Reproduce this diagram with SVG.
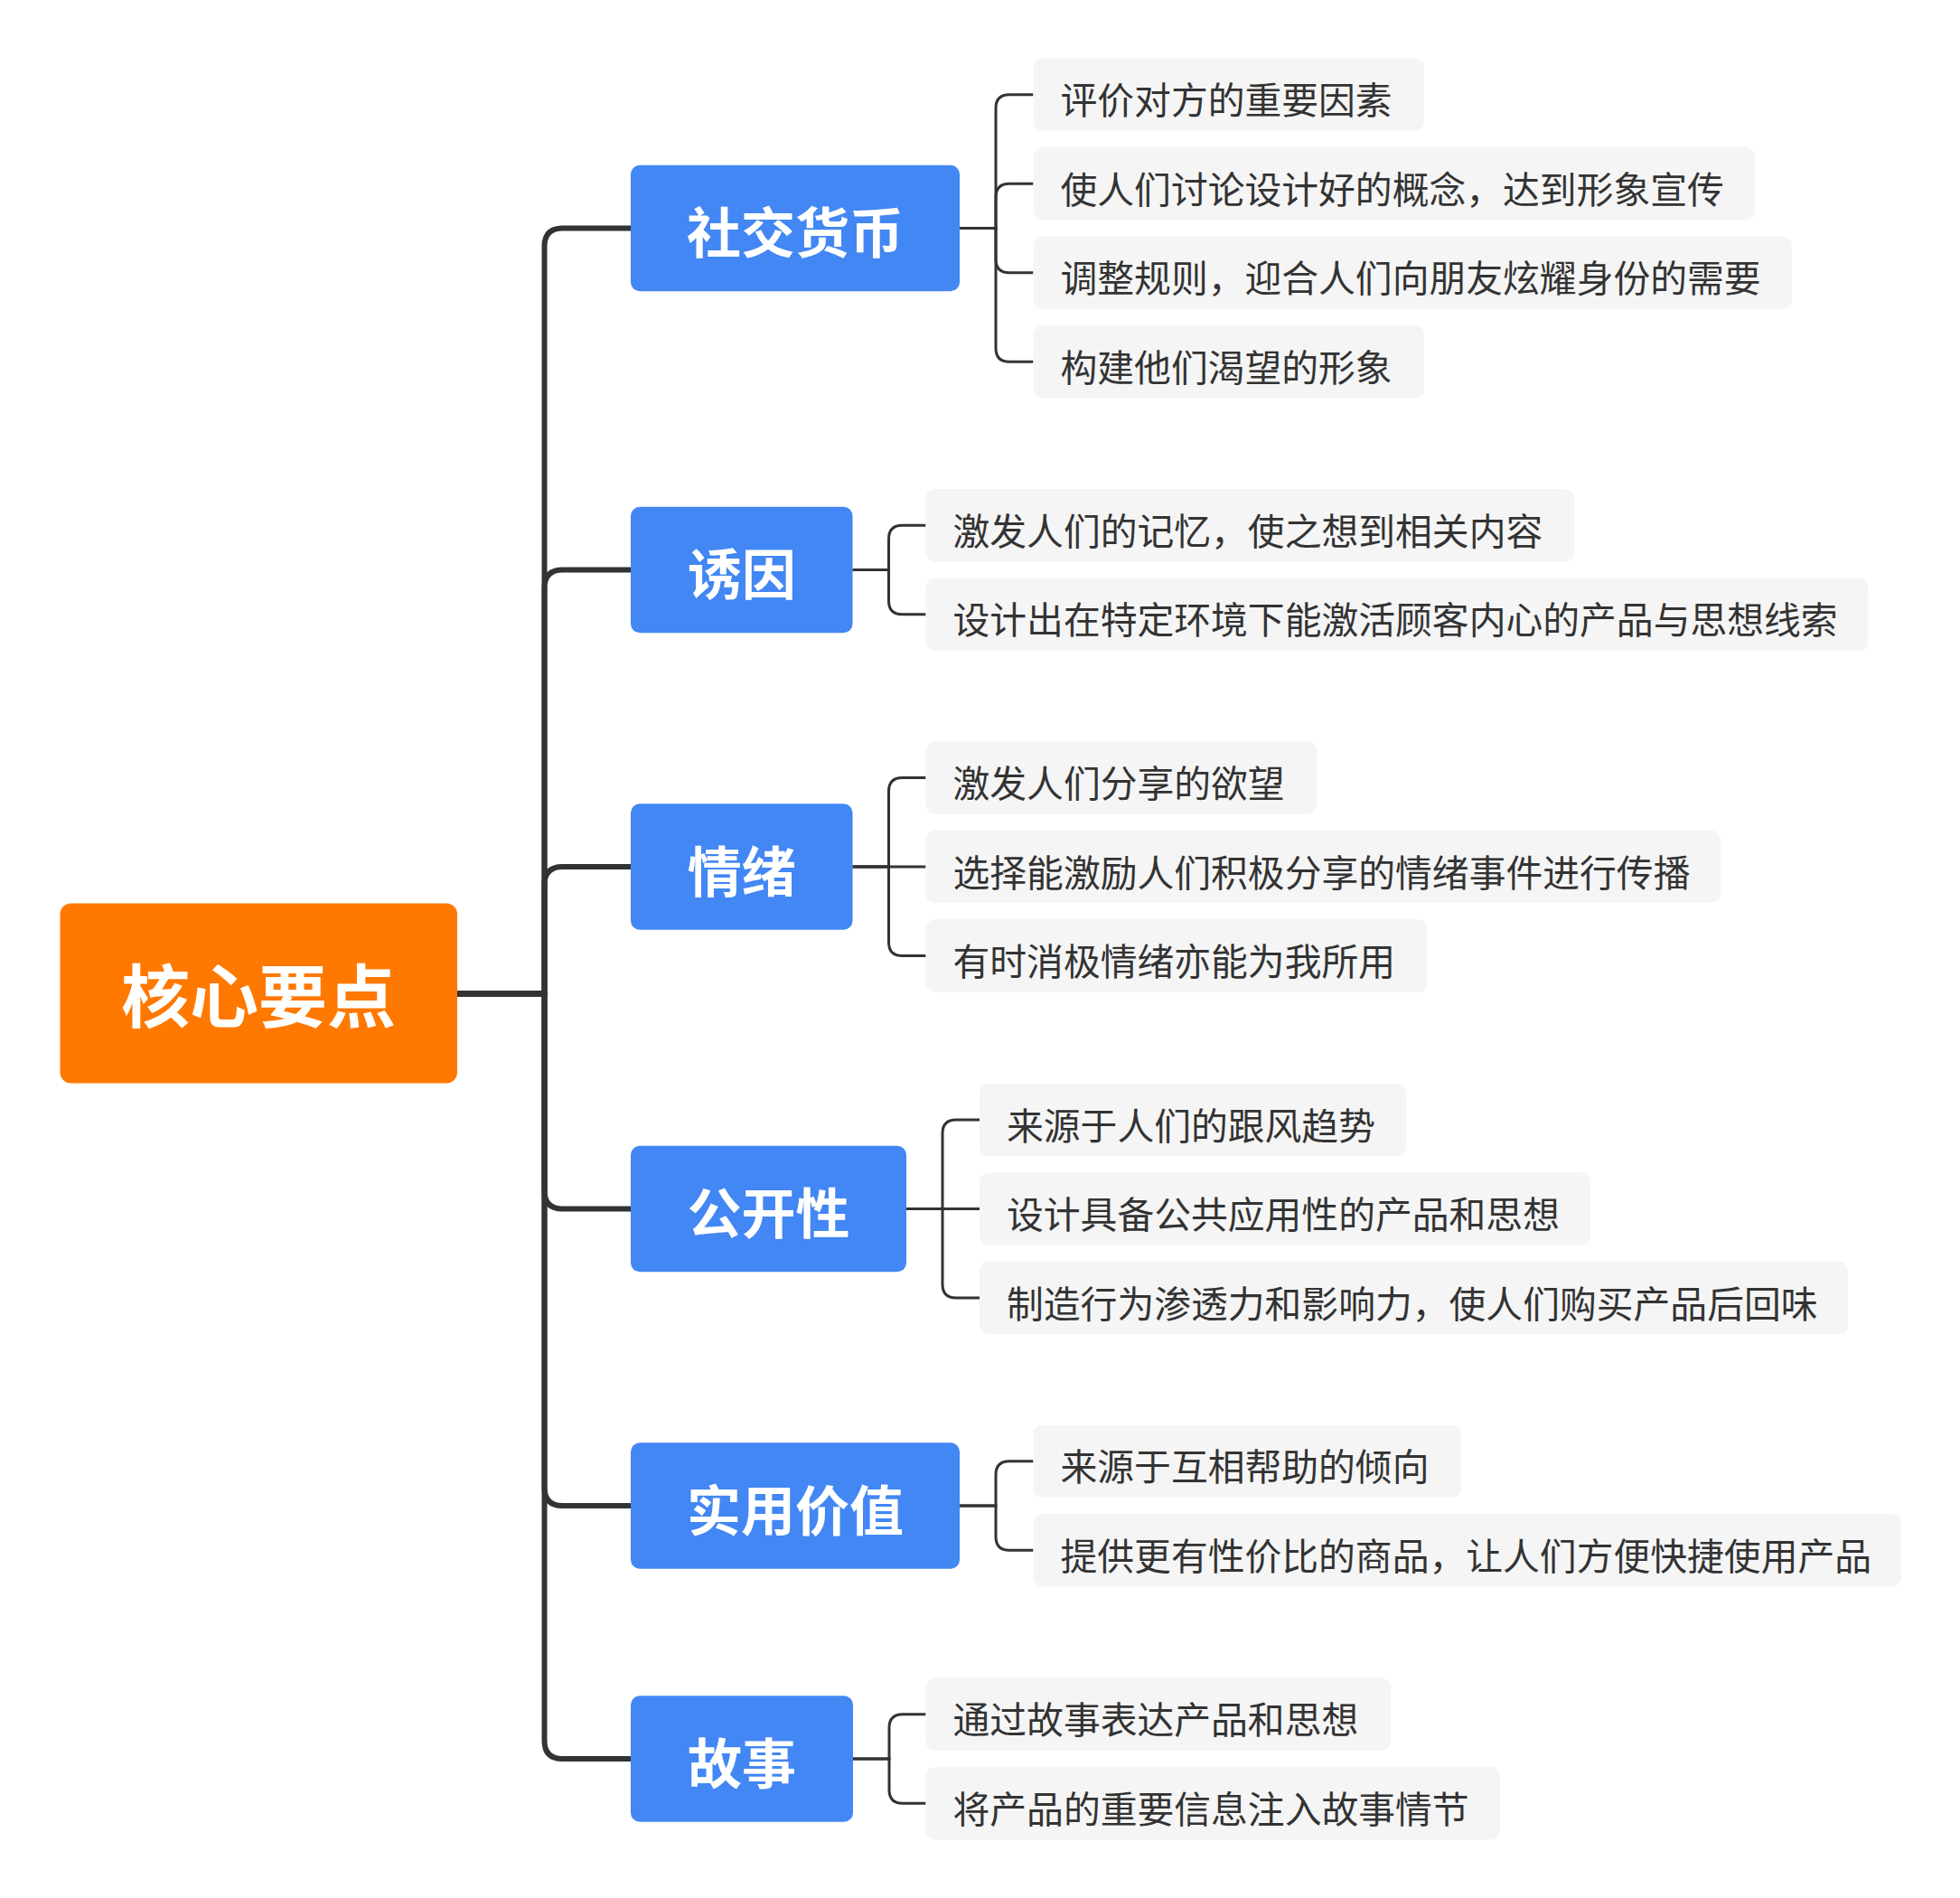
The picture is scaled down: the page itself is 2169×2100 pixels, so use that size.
<svg xmlns="http://www.w3.org/2000/svg" width="2169" height="2100" viewBox="0 0 2169 2100">
<style>
.root{fill:#FF7800}
.cat{fill:#4287F3}
.leaf{fill:#F5F5F5}
.rt{font-family:"Noto Sans CJK SC","Noto Sans",sans-serif;font-weight:700;font-size:76px;fill:#fff;text-anchor:middle}
.ct{font-family:"Noto Sans CJK SC","Noto Sans",sans-serif;font-weight:700;font-size:60px;fill:#fff;text-anchor:middle}
.lt{font-family:"Noto Sans CJK SC","Noto Sans",sans-serif;font-size:40.8px;fill:#333}
.trunk{fill:none;stroke:#333;stroke-width:6}
.br{fill:none;stroke:#333;stroke-width:3}
</style>
<rect width="2169" height="2100" fill="#fff"/>
<g id="connectors">
<path class="trunk" d="M506 1099.5H602.5V272.5Q602.5 252.5 622.5 252.5H698"/>
<path class="trunk" d="M506 1099.5H602.5V650.5Q602.5 630.5 622.5 630.5H698"/>
<path class="trunk" d="M506 1099.5H602.5V979Q602.5 959 622.5 959H698"/>
<path class="trunk" d="M506 1099.5H602.5V1317.5Q602.5 1337.5 622.5 1337.5H698"/>
<path class="trunk" d="M506 1099.5H602.5V1646Q602.5 1666 622.5 1666H698"/>
<path class="trunk" d="M506 1099.5H602.5V1926Q602.5 1946 622.5 1946H698"/>
<path class="br" d="M1062 252.5H1102V119.75Q1102 104.75 1117 104.75H1143.5"/>
<path class="br" d="M1062 252.5H1102V218.25Q1102 203.25 1117 203.25H1143.5"/>
<path class="br" d="M1062 252.5H1102V286.75Q1102 301.75 1117 301.75H1143.5"/>
<path class="br" d="M1062 252.5H1102V385.25Q1102 400.25 1117 400.25H1143.5"/>
<path class="br" d="M943.5 630.5H983.5V596.25Q983.5 581.25 998.5 581.25H1024.5"/>
<path class="br" d="M943.5 630.5H983.5V664.75Q983.5 679.75 998.5 679.75H1024.5"/>
<path class="br" d="M943.5 959H983.5V875.5Q983.5 860.5 998.5 860.5H1024.5"/>
<path class="br" d="M943.5 959H1024.5"/>
<path class="br" d="M943.5 959H983.5V1042.5Q983.5 1057.5 998.5 1057.5H1024.5"/>
<path class="br" d="M1003 1337.5H1043V1254Q1043 1239 1058 1239H1084"/>
<path class="br" d="M1003 1337.5H1084"/>
<path class="br" d="M1003 1337.5H1043V1421Q1043 1436 1058 1436H1084"/>
<path class="br" d="M1062 1666H1102V1631.75Q1102 1616.75 1117 1616.75H1143.5"/>
<path class="br" d="M1062 1666H1102V1700.25Q1102 1715.25 1117 1715.25H1143.5"/>
<path class="br" d="M944 1946H984V1911.75Q984 1896.75 999 1896.75H1024.5"/>
<path class="br" d="M944 1946H984V1980.25Q984 1995.25 999 1995.25H1024.5"/>
</g>
<g id="root">
<rect class="root" x="66.5" y="999.5" width="439.5" height="199" rx="12"/>
<text class="rt" x="286" y="1131">核心要点</text>
</g>
<g id="cat1">
<rect class="cat" x="698" y="182.75" width="364" height="139.5" rx="10"/>
<text class="ct" x="880" y="280">社交货币</text>
</g>
<g id="cat2">
<rect class="cat" x="698" y="560.75" width="245.5" height="139.5" rx="10"/>
<text class="ct" x="820.75" y="658">诱因</text>
</g>
<g id="cat3">
<rect class="cat" x="698" y="889.25" width="245.5" height="139.5" rx="10"/>
<text class="ct" x="820.75" y="986.5">情绪</text>
</g>
<g id="cat4">
<rect class="cat" x="698" y="1267.75" width="305" height="139.5" rx="10"/>
<text class="ct" x="850.5" y="1365">公开性</text>
</g>
<g id="cat5">
<rect class="cat" x="698" y="1596.25" width="364" height="139.5" rx="10"/>
<text class="ct" x="880" y="1693.5">实用价值</text>
</g>
<g id="cat6">
<rect class="cat" x="698" y="1876.25" width="246" height="139.5" rx="10"/>
<text class="ct" x="821" y="1973.5">故事</text>
</g>
<g id="leaf1-1"><rect class="leaf" x="1143.5" y="64.5" width="432.5" height="80.5" rx="10"/><text class="lt" x="1173.5" y="126.25">评价对方的重要因素</text></g>
<g id="leaf1-2"><rect class="leaf" x="1143.5" y="163" width="798.5" height="80.5" rx="10"/><text class="lt" x="1173.5" y="224.75">使人们讨论设计好的概念，达到形象宣传</text></g>
<g id="leaf1-3"><rect class="leaf" x="1143.5" y="261.5" width="839.5" height="80.5" rx="10"/><text class="lt" x="1173.5" y="323.25">调整规则，迎合人们向朋友炫耀身份的需要</text></g>
<g id="leaf1-4"><rect class="leaf" x="1143.5" y="360" width="432.5" height="80.5" rx="10"/><text class="lt" x="1173.5" y="421.75">构建他们渴望的形象</text></g>
<g id="leaf2-1"><rect class="leaf" x="1024.5" y="541" width="718" height="80.5" rx="10"/><text class="lt" x="1054.5" y="602.75">激发人们的记忆，使之想到相关内容</text></g>
<g id="leaf2-2"><rect class="leaf" x="1024.5" y="639.5" width="1043" height="80.5" rx="10"/><text class="lt" x="1054.5" y="701.25">设计出在特定环境下能激活顾客内心的产品与思想线索</text></g>
<g id="leaf3-1"><rect class="leaf" x="1024.5" y="820.25" width="432.5" height="80.5" rx="10"/><text class="lt" x="1054.5" y="882">激发人们分享的欲望</text></g>
<g id="leaf3-2"><rect class="leaf" x="1024.5" y="918.75" width="879.5" height="80.5" rx="10"/><text class="lt" x="1054.5" y="980.5">选择能激励人们积极分享的情绪事件进行传播</text></g>
<g id="leaf3-3"><rect class="leaf" x="1024.5" y="1017.25" width="555" height="80.5" rx="10"/><text class="lt" x="1054.5" y="1079">有时消极情绪亦能为我所用</text></g>
<g id="leaf4-1"><rect class="leaf" x="1084" y="1198.75" width="472.5" height="80.5" rx="10"/><text class="lt" x="1114" y="1260.5">来源于人们的跟风趋势</text></g>
<g id="leaf4-2"><rect class="leaf" x="1084" y="1297.25" width="676" height="80.5" rx="10"/><text class="lt" x="1114" y="1359">设计具备公共应用性的产品和思想</text></g>
<g id="leaf4-3"><rect class="leaf" x="1084" y="1395.75" width="961" height="80.5" rx="10"/><text class="lt" x="1114" y="1457.5">制造行为渗透力和影响力，使人们购买产品后回味</text></g>
<g id="leaf5-1"><rect class="leaf" x="1143.5" y="1576.5" width="473.5" height="80.5" rx="10"/><text class="lt" x="1173.5" y="1638.25">来源于互相帮助的倾向</text></g>
<g id="leaf5-2"><rect class="leaf" x="1143.5" y="1675" width="960.5" height="80.5" rx="10"/><text class="lt" x="1173.5" y="1736.75">提供更有性价比的商品，让人们方便快捷使用产品</text></g>
<g id="leaf6-1"><rect class="leaf" x="1024.5" y="1856.5" width="514.5" height="80.5" rx="10"/><text class="lt" x="1054.5" y="1918.25">通过故事表达产品和思想</text></g>
<g id="leaf6-2"><rect class="leaf" x="1024.5" y="1955" width="635.5" height="80.5" rx="10"/><text class="lt" x="1054.5" y="2016.75">将产品的重要信息注入故事情节</text></g>
</svg>
